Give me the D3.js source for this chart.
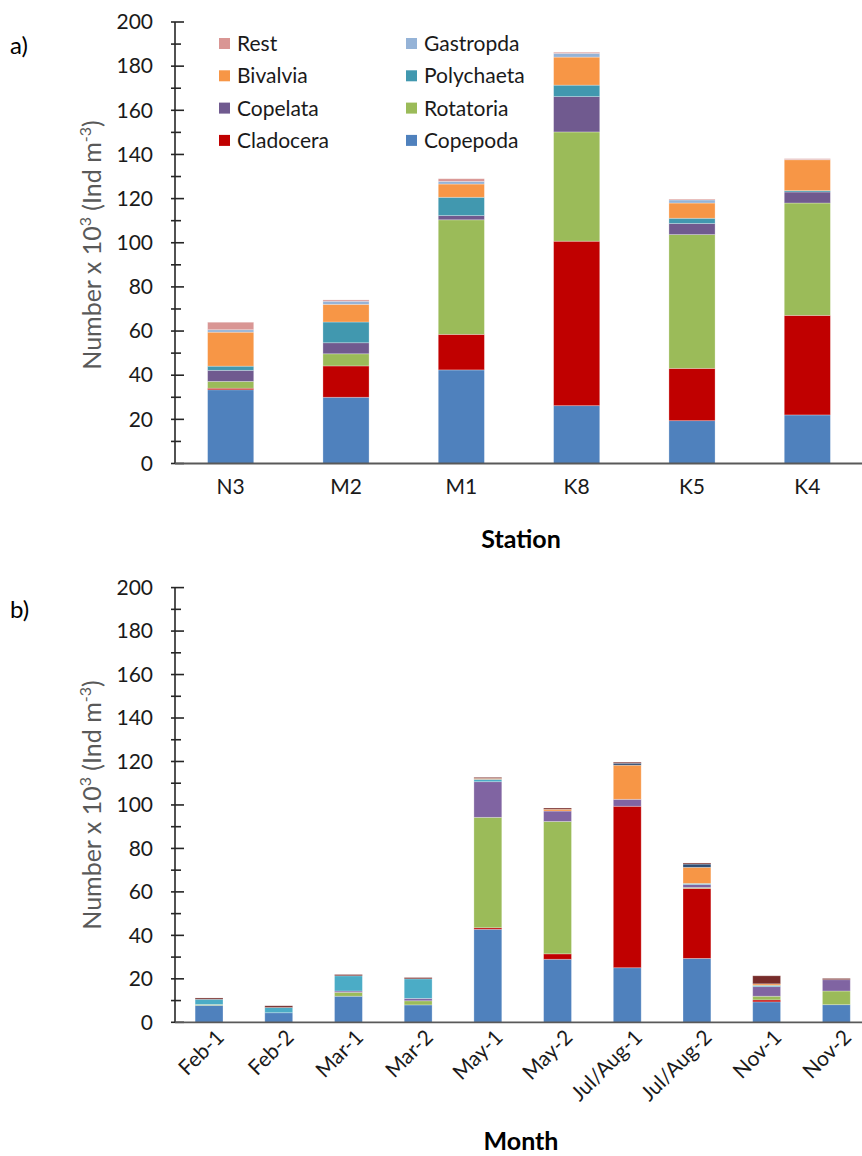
<!DOCTYPE html>
<html><head><meta charset="utf-8">
<script src="https://cdn.jsdelivr.net/npm/d3@7"></script>
<style>
body{margin:0;background:#fff}
svg{display:block}
text{font-family:Lato,'Open Sans',sans-serif}
</style>
</head><body>
<svg id="c" width="862" height="1156"></svg>
<script>
// ---------- data ----------
const seriesNames = ["Copepoda","Cladocera","Rotatoria","Copelata","Polychaeta","Bivalvia","Gastropda","Rest"];

// panel a) by station
const stations = ["N3","M2","M1","K8","K5","K4"];
const aCopepoda   = [33.4, 30.0, 42.4, 26.2, 19.4, 22.0];
const aCladocera  = [0.7, 14.2, 16.1, 74.5, 23.7, 45.1];
const aRotatoria  = [3.1, 5.5, 51.9, 49.5, 60.6, 50.9];
const aCopelata   = [5.0, 5.0, 1.9, 16.0, 5.0, 5.0];
const aPolychaeta = [1.9, 9.4, 8.3, 5.2, 2.4, 0.6];
const aBivalvia   = [15.4, 8.0, 6.0, 12.7, 6.9, 14.0];
const aGastropoda = [1.1, 1.4, 1.2, 1.7, 1.4, 0.1];
const aRest       = [3.4, 0.6, 1.2, 0.5, 0.4, 0.4];

// panel b) by month
const months = ["Feb-1","Feb-2","Mar-1","Mar-2","May-1","May-2","Jul/Aug-1","Jul/Aug-2","Nov-1","Nov-2"];
const bCopepoda   = [7.8, 4.4, 12.0, 8.0, 42.8, 29.0, 25.1, 29.4, 9.4, 8.1];
const bCladocera  = [0, 0, 0, 0, 0.7, 2.5, 74.3, 32.2, 0.9, 0];
const bRotatoria  = [0.4, 0, 1.8, 1.9, 50.8, 60.9, 0, 0.4, 1.7, 6.3];
const bCopelata   = [0, 0, 0.6, 1.1, 16.4, 4.8, 3.2, 1.4, 4.4, 5.2];
const bPolychaeta = [2.4, 2.4, 7.0, 9.0, 1.1, 0, 0, 0.5, 0.6, 0];
const bBivalvia   = [0, 0, 0, 0, 0.4, 0.8, 15.7, 7.4, 0.7, 0];
const bGastropoda = [0, 0, 0, 0, 0, 0, 0.9, 1.5, 0, 0];
const bRest       = [0.6, 0.8, 0.6, 0.6, 0.5, 0.6, 0.5, 0.5, 3.7, 0.6];

const yTicks = [0,20,40,60,80,100,120,140,160,180,200];
const legendOrder = ["Rest","Gastropda","Bivalvia","Polychaeta","Copelata","Rotatoria","Cladocera","Copepoda"];

// ---------- styles ----------
const colorsA = {Copepoda:"#4f81bd",Cladocera:"#c00000",Rotatoria:"#9bbb59",Copelata:"#705a8f",
  Polychaeta:"#4198af",Bivalvia:"#f79646",Gastropda:"#95b3d7",Rest:"#d99694"};
const colorsB = {Copepoda:"#4f81bd",Cladocera:"#c00000",Rotatoria:"#9bbb59",Copelata:"#8064a2",
  Polychaeta:"#4bacc6",Bivalvia:"#f79646",Gastropda:"#2c4d75",Rest:"#772c2a"};

function rows(cats, arrs){
  return cats.map((c,i)=>{
    const r={cat:c};
    seriesNames.forEach((s,k)=>r[s]=arrs[k][i]);
    return r;
  });
}
const dataA = rows(stations,[aCopepoda,aCladocera,aRotatoria,aCopelata,aPolychaeta,aBivalvia,aGastropoda,aRest]);
const dataB = rows(months,[bCopepoda,bCladocera,bRotatoria,bCopelata,bPolychaeta,bBivalvia,bGastropoda,bRest]);

const svg = d3.select("#c");
const FONT = "Lato,'Open Sans',sans-serif";

function panel(cfg){
  const g = svg.append("g");
  const x = d3.scaleBand().domain(cfg.cats).range([cfg.x0,cfg.x1]).paddingInner(0.6).paddingOuter(0.3);
  const y = d3.scaleLinear().domain([0,200]).range([cfg.yb,cfg.yt]);
  const stack = d3.stack().keys(seriesNames)(cfg.data);

  g.selectAll("g.s").data(stack).join("g").attr("class","s")
    .attr("fill",d=>cfg.colors[d.key])
    .selectAll("rect").data(d=>d).join("rect")
    .attr("x",d=>x(d.data.cat))
    .attr("width",x.bandwidth())
    .attr("y",d=>y(d[1]))
    .attr("height",d=>Math.max(0,y(d[0])-y(d[1])))
    .attr("stroke","#fff").attr("stroke-opacity",0.35).attr("stroke-width",0.8);

  // y axis labels
  const ax = d3.axisLeft(y).tickValues(yTicks).tickSize(0).tickPadding(22);
  const ag = g.append("g").attr("transform",`translate(${cfg.ax},0)`).call(ax);
  ag.select(".domain").remove();
  ag.selectAll("text").attr("font-size",21).attr("fill","#1a1a1a").attr("font-family",FONT);

  // cross ticks
  const minor = d3.range(0,201,10);
  g.selectAll("line.t").data(minor).join("line").attr("class","t")
    .attr("x1",d=>cfg.ax-4).attr("x2",d=>cfg.ax+(d%20===0?9:6))
    .attr("y1",d=>y(d)).attr("y2",d=>y(d))
    .attr("stroke","#262626").attr("stroke-width",1.6);
  g.append("line").attr("x1",cfg.ax).attr("x2",cfg.ax).attr("y1",y(200)).attr("y2",y(0))
    .attr("stroke","#262626").attr("stroke-width",1.6);

  // x axis
  const bx = d3.axisBottom(x).tickSize(0).tickPadding(cfg.rot?0:16);
  const xg = g.append("g").attr("transform",`translate(0,${cfg.yb})`).call(bx);
  xg.select(".domain").remove();
  xg.selectAll("text").attr("font-size",21).attr("fill","#1a1a1a").attr("font-family",FONT);
  if(cfg.rot){
    xg.selectAll("text").attr("text-anchor","end").attr("y",0)
      .attr("transform","rotate(-45)").attr("dx","0").attr("dy","23");
  }
  g.append("line").attr("x1",cfg.ax).attr("x2",862).attr("y1",y(0)).attr("y2",y(0))
    .attr("stroke","#595959").attr("stroke-width",1.8);

  // axis titles
  const yt = g.append("text").attr("transform",`translate(${cfg.ytx},${cfg.yty}) rotate(-90)`)
    .attr("text-anchor","middle").attr("font-size",25).attr("fill","#595959");
  yt.append("tspan").text("Number x 10");
  yt.append("tspan").attr("font-size",16).attr("dy",-10).text("3");
  yt.append("tspan").attr("dy",10).text(" (Ind m");
  yt.append("tspan").attr("font-size",16).attr("dy",-10).text("-3");
  yt.append("tspan").attr("dy",10).text(")");

  g.append("text").attr("x",cfg.xtx).attr("y",cfg.xty).attr("text-anchor","middle")
    .attr("font-size",25).attr("font-weight","bold").attr("fill","#000").text(cfg.xtitle);
  g.append("text").attr("x",10).attr("y",cfg.labY).attr("font-size",24).attr("fill","#000").text(cfg.lab);
  return g;
}

panel({cats:stations,data:dataA,colors:colorsA,x0:173,x1:865,yb:463.5,yt:22,ax:175,
  ytx:101,yty:245,xtitle:"Station",xtx:521,xty:548,lab:"a)",labY:54,rot:false});
panel({cats:months,data:dataB,colors:colorsB,x0:174.2,x1:871.2,yb:1022.3,yt:587.6,ax:175,
  ytx:101,yty:805,xtitle:"Month",xtx:521,xty:1150,lab:"b)",labY:618,rot:true});

// legend
const lg = svg.append("g");
legendOrder.forEach((s,i)=>{
  const col = i%2, row = Math.floor(i/2);
  const lx = col===0?219:406, ly = 43.5 + row*32.3;
  lg.append("rect").attr("x",lx).attr("y",ly-5.5).attr("width",11).attr("height",11).attr("fill",colorsA[s]);
  lg.append("text").attr("x",lx+18).attr("y",ly).attr("dy","0.36em").attr("font-size",21).attr("fill","#1a1a1a").text(s);
});
</script>
</body></html>
